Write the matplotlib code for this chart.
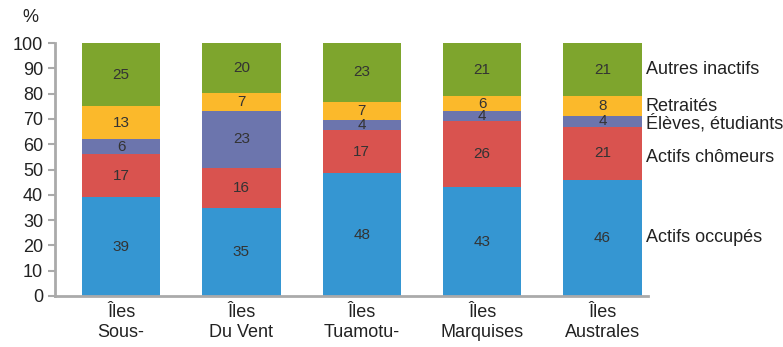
import matplotlib
matplotlib.use("Agg")
import matplotlib.pyplot as plt
import numpy as np

plt.rcParams['font.family'] = ['Liberation Sans', 'DejaVu Sans']

categories = ["Îles\nSous-", "Îles\nDu Vent", "Îles\nTuamotu-", "Îles\nMarquises", "Îles\nAustrales"]
series_names = ["Actifs occupés", "Actifs chômeurs", "Élèves, étudiants", "Retraités", "Autres inactifs"]
actifs_occupes = [39, 35, 48, 43, 46]
actifs_chomeurs = [17, 16, 17, 26, 21]
eleves = [6, 23, 4, 4, 4]
retraites = [13, 7, 7, 6, 8]
autres_inactifs = [25, 20, 23, 21, 21]
colors = ["#3596d2", "#d9534f", "#6c75ad", "#fbb92b", "#7ea52d"]

data = np.array([actifs_occupes, actifs_chomeurs, eleves, retraites, autres_inactifs], dtype=float)
totals = data.sum(axis=0)
pct = data / totals * 100

fig = plt.figure(figsize=(7.83, 3.47), dpi=100)
ax = fig.add_axes([0.070, 0.147, 0.758, 0.729])
x = np.arange(len(categories))
bottom = np.zeros(len(categories))
for i, name in enumerate(series_names):
    ax.bar(x, pct[i], 0.65, bottom=bottom, color=colors[i], edgecolor="none")
    for j in range(len(categories)):
        ax.text(x[j], bottom[j] + pct[i][j] / 2, f"{int(data[i][j])}", ha="center", va="center",
                fontsize=11, color="#333333")
    bottom += pct[i]

# legend-like labels at right, aligned to last bar
last = len(categories) - 1
cum = np.cumsum(pct[:, last])
starts = cum - pct[:, last]
label_offsets = [0, -1.8, -0.8, -0.2, 0.0]
for i, name in enumerate(series_names):
    yc = (starts[i] + cum[i]) / 2 + label_offsets[i]
    ax.text(4.36, yc, name, ha="left", va="center", fontsize=13, color="#222222", clip_on=False)

ax.set_xlim(-0.55, 4.38)
ax.set_ylim(0, 100)
ax.set_yticks(range(0, 101, 10))
ax.set_xticks(x)
ax.set_xticklabels(categories, fontsize=13, color="#222222", linespacing=1.2)
ax.tick_params(axis="x", length=0, pad=6)
ax.tick_params(axis="y", labelsize=13, colors="#aaaaaa", labelcolor="#222222", length=5, width=1.5)
for s in ["top", "right"]:
    ax.spines[s].set_visible(False)
for s in ["left", "bottom"]:
    ax.spines[s].set_color("#aaaaaa")
    ax.spines[s].set_linewidth(2)
fig.text(30 / 783, 1 - 18 / 347, "%", ha="center", va="center", fontsize=13, color="#222222")

fig.savefig("out.png", dpi=100)
